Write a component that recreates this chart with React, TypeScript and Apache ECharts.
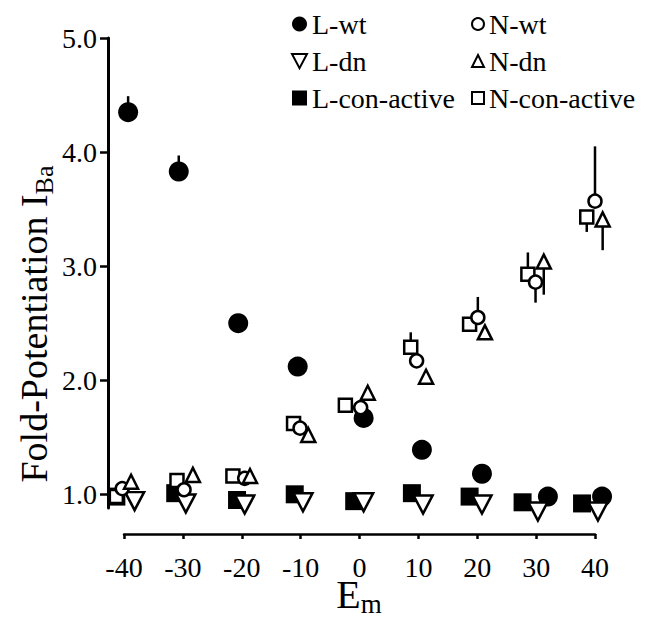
import React, { useEffect, useRef } from "react";
import * as echarts from "echarts";

const FONT = "'Liberation Serif', 'Times New Roman', Times, serif";

// Tick labels
const X_TICKS_MIN = -40;
const X_TICKS_MAX = 40;
const Y_TICKS = [1, 2, 3, 4, 5];

// Series data (x = membrane potential, slightly staggered as in the figure; y = fold potentiation)
const L_WT_X = [-39.3, -30.7, -20.6, -10.5, 0.7, 10.6, 20.8, 32.0, 41.2];
const L_WT_Y = [4.35, 3.83, 2.5, 2.12, 1.67, 1.39, 1.18, 0.98, 0.98];

const L_DN_X = [-38.2, -29.5, -19.5, -9.6, 0.7, 10.8, 20.8, 30.3, 40.5];
const L_DN_Y = [0.94, 0.92, 0.91, 0.93, 0.93, 0.91, 0.91, 0.85, 0.85];

const L_CON_X = [-41.3, -31.3, -20.8, -11.0, -0.9, 8.9, 18.7, 27.7, 37.8];
const L_CON_Y = [0.98, 1.01, 0.95, 1.0, 0.94, 1.01, 0.98, 0.93, 0.92];

const N_WT_X = [-40.3, -29.8, -19.5, -10.1, 0.2, 9.7, 20.1, 29.9, 40.0];
const N_WT_Y = [1.05, 1.04, 1.14, 1.58, 1.76, 2.17, 2.55, 2.86, 3.57];

const N_DN_X = [-38.8, -28.3, -18.6, -8.7, 1.4, 11.3, 21.3, 31.3, 41.3];
const N_DN_Y = [1.11, 1.17, 1.16, 1.52, 1.89, 2.03, 2.42, 3.04, 3.41];

const N_CON_X = [-41.3, -31.0, -21.5, -11.2, -2.4, 8.7, 18.7, 28.6, 38.6];
const N_CON_Y = [0.98, 1.12, 1.16, 1.62, 1.78, 2.29, 2.49, 2.93, 3.43];

// Error bars (one-sided, as drawn)
const ERR_X = [-39.3, -30.7, 8.7, 20.1, 28.6, 29.9, 31.3, 40.0, 38.6, 41.3];
const ERR_FROM = [4.35, 3.83, 2.29, 2.55, 2.93, 2.86, 3.04, 3.57, 3.43, 3.41];
const ERR_TO = [4.49, 3.97, 2.42, 2.73, 3.12, 2.68, 2.75, 4.05, 3.3, 3.14];

const INV_TRIANGLE = "path://M0,0L20,0L10,19Z";

const pairs = (xs: number[], ys: number[]) => xs.map((x, i) => [x, ys[i]]);

export default function App() {
  const ref = useRef<HTMLDivElement>(null);

  useEffect(() => {
    document.body.style.margin = "0";
    if (!ref.current) return;
    const chart = echarts.init(ref.current, undefined, { renderer: "svg" });

    const filled = { color: "#000", opacity: 1 };
    const open = { color: "#fff", borderColor: "#000", borderWidth: 2.5, opacity: 1 };

    const option: any = {
      animation: false,
      backgroundColor: "#fff",
      textStyle: { fontFamily: FONT, color: "#000" },
      legend: [
        {
          orient: "vertical",
          left: 286,
          top: 5,
          itemWidth: 15,
          itemHeight: 15,
          itemGap: 9,
          itemTextGap: 11,
          data: ["L-wt", "L-dn", "L-con-active"],
          textStyle: { fontFamily: FONT, fontSize: 28, color: "#000" },
          selectedMode: false,
        },
        {
          orient: "vertical",
          left: 466,
          top: 5,
          itemWidth: 12,
          itemHeight: 12,
          itemGap: 9,
          itemTextGap: 8,
          data: ["N-wt", "N-dn", "N-con-active"],
          textStyle: { fontFamily: FONT, fontSize: 28, color: "#000" },
          selectedMode: false,
        },
      ],
      grid: { left: 124, right: 56, top: 38, bottom: 110, outerBoundsMode: "none", containLabel: false },
      graphic: [
        {
          type: "text",
          x: 34,
          y: 324,
          rotation: Math.PI / 2,
          style: {
            text: "{a|Fold-Potentiation I}{b|Ba}",
            align: "center",
            verticalAlign: "middle",
            fill: "#000",
            fontFamily: FONT,
            fontSize: 38,
            rich: {
              a: { fontFamily: FONT, fontSize: 38, lineHeight: 46, fill: "#000" },
              b: { fontFamily: FONT, fontSize: 26, lineHeight: 26, verticalAlign: "bottom", fill: "#000" },
            },
          },
        },
        {
          type: "text",
          x: 359,
          y: 594,
          style: {
            text: "{a|E}{b|m}",
            align: "center",
            verticalAlign: "middle",
            fill: "#000",
            fontFamily: FONT,
            fontSize: 40,
            rich: {
              a: { fontFamily: FONT, fontSize: 40, lineHeight: 46, fill: "#000" },
              b: { fontFamily: FONT, fontSize: 27, lineHeight: 27, verticalAlign: "bottom", fill: "#000" },
            },
          },
        },
      ],
      xAxis: {
        type: "value",
        min: X_TICKS_MIN,
        max: X_TICKS_MAX,
        interval: 10,
        offset: 26,
        axisLine: { onZero: false, lineStyle: { color: "#000", width: 2.5 } },
        axisTick: { length: 5, lineStyle: { color: "#000", width: 2.5 } },
        axisLabel: { margin: 19, fontSize: 28, fontFamily: FONT, color: "#000" },
        splitLine: { show: false },
      },
      yAxis: {
        type: "value",
        min: 0.88,
        max: 5,
        offset: 16,
        axisLine: { onZero: false, lineStyle: { color: "#000", width: 3 } },
        axisTick: { length: 8, customValues: Y_TICKS, lineStyle: { color: "#000", width: 2.5 } },
        axisLabel: {
          customValues: Y_TICKS,
          margin: 11,
          fontSize: 28,
          fontFamily: FONT,
          color: "#000",
          formatter: (v: number) => v.toFixed(1),
        },
        splitLine: { show: false },
      },
      series: [
        {
          type: "custom",
          name: "err",
          clip: false,
          z: 1,
          encode: { x: 0, y: [1, 2] },
          data: ERR_X.map((x, i) => [x, ERR_FROM[i], ERR_TO[i]]),
          renderItem: (_p: any, api: any) => {
            const a = api.coord([api.value(0), api.value(1)]);
            const b = api.coord([api.value(0), api.value(2)]);
            return {
              type: "line",
              shape: { x1: a[0], y1: a[1], x2: b[0], y2: b[1] },
              style: { stroke: "#000", lineWidth: 2.5 },
            };
          },
        },
        {
          type: "scatter",
          name: "L-con-active",
          symbol: "rect",
          symbolSize: 18,
          clip: false,
          z: 2,
          itemStyle: filled,
          data: pairs(L_CON_X, L_CON_Y),
        },
        {
          type: "scatter",
          name: "L-wt",
          symbol: "circle",
          symbolSize: 20,
          clip: false,
          z: 2,
          itemStyle: filled,
          data: pairs(L_WT_X, L_WT_Y),
        },
        {
          type: "scatter",
          name: "L-dn",
          symbol: INV_TRIANGLE,
          symbolSize: [19, 18],
          clip: false,
          z: 2,
          itemStyle: open,
          data: pairs(L_DN_X, L_DN_Y),
        },
        {
          type: "scatter",
          name: "N-con-active",
          symbol: "rect",
          symbolSize: 13,
          clip: false,
          z: 2,
          itemStyle: open,
          data: pairs(N_CON_X, N_CON_Y),
        },
        {
          type: "scatter",
          name: "N-wt",
          symbol: "circle",
          symbolSize: 13,
          clip: false,
          z: 2,
          itemStyle: open,
          data: pairs(N_WT_X, N_WT_Y),
        },
        {
          type: "scatter",
          name: "N-dn",
          symbol: "triangle",
          symbolSize: 14,
          clip: false,
          z: 2,
          itemStyle: open,
          data: pairs(N_DN_X, N_DN_Y),
        },
      ],
    };

    chart.setOption(option);
    return () => chart.dispose();
  }, []);

  return <div ref={ref} style={{ width: 651, height: 618 }} />;
}
